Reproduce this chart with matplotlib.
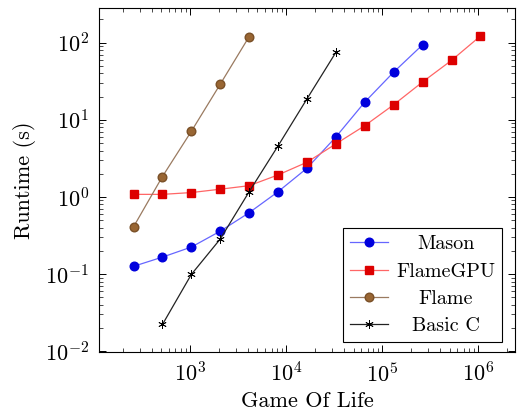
import numpy as np
import matplotlib.pyplot as plt

plt.rcParams['font.family'] = 'cmr10'
plt.rcParams['mathtext.fontset'] = 'cm'
plt.rcParams['axes.formatter.use_mathtext'] = True

# grid sizes (number of cells) and runtimes in seconds
mason_n = [256, 512, 1024, 2048, 4096, 8192, 16384, 32768, 65536, 131072, 262144]
mason_t = [0.126, 0.166, 0.224, 0.36, 0.625, 1.17, 2.36, 6.0, 17, 41.6, 94]

gpu_n = [256, 512, 1024, 2048, 4096, 8192, 16384, 32768, 65536, 131072, 262144, 524288, 1048576]
gpu_t = [1.08, 1.08, 1.14, 1.26, 1.4, 1.93, 2.82, 4.88, 8.4, 15.7, 31, 59, 122]

flame_n = [256, 512, 1024, 2048, 4096]
flame_t = [0.41, 1.84, 7.1, 29, 120]

basicc_n = [512, 1024, 2048, 4096, 8192, 16384, 32768]
basicc_t = [0.0222, 0.099, 0.285, 1.17, 4.6, 18.7, 75]

fig = plt.figure(figsize=(5.23, 4.11), dpi=100)
ax = fig.add_axes([0.189, 0.1436, 0.796, 0.837])

ax.plot(mason_n, mason_t, color='#6666ff', lw=0.9, marker='o', ms=6.2,
        mfc='#0000dd', mec='#0000dd', label='Mason')
ax.plot(gpu_n, gpu_t, color='#ff6666', lw=0.9, marker='s', ms=6.2,
        mfc='#dd0000', mec='#dd0000', label='FlameGPU')
ax.plot(flame_n, flame_t, color='#9a7a60', lw=0.9, marker='o', ms=6.2,
        mfc='#996633', mec='#7a5028', label='Flame')
ax.plot(basicc_n, basicc_t, color='#222222', lw=0.9, marker=(6, 2, 0), ms=6,
        mfc='k', mec='k', mew=0.6, label='Basic C')

ax.set_xscale('log')
ax.set_yscale('log')
ax.set_xlim(10**2.047, 10**6.382)
ax.set_ylim(10**-2.01, 10**2.45)

ax.tick_params(which='both', direction='in', top=True, right=True, labelsize=16)
ax.tick_params(which='major', length=5, width=0.7, pad=7)
ax.tick_params(which='minor', length=3, width=0.5)
for s in ax.spines.values():
    s.set_linewidth(0.8)

ax.set_xlabel('Game Of Life', fontsize=16, labelpad=4)
ax.set_ylabel('Runtime (s)', fontsize=16, labelpad=6)

leg = ax.legend(loc='lower right', fontsize=14.5, fancybox=False, edgecolor='k',
                framealpha=1, bbox_to_anchor=(0.969, 0.029), borderaxespad=0,
                handlelength=1.9, handletextpad=0.4,
                labelspacing=0.45, borderpad=0.35)
leg.get_frame().set_linewidth(0.8)

# center the labels inside the legend column
fig.canvas.draw()
texts = leg.get_texts()
widths = [t.get_window_extent().width for t in texts]
for t, w in zip(texts, widths):
    t.set_x((max(widths) - w) / 2)

fig.savefig('out.png', dpi=100)
